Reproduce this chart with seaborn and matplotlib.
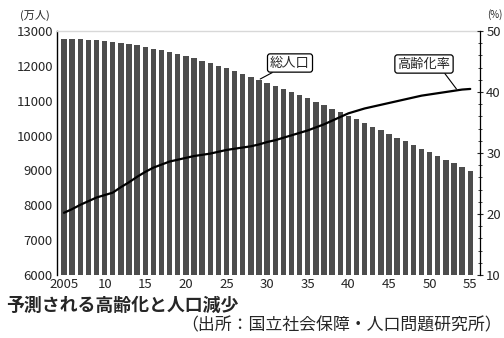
import matplotlib
matplotlib.use("Agg")
import matplotlib.pyplot as plt
import seaborn as sns
import pandas as pd

# 年次（2005〜2055年）
years = list(range(2005, 2056))

# 総人口（万人）
population = [
    12777, 12774, 12763, 12744, 12733, 12718, 12695, 12668, 12637, 12598,
    12543, 12494, 12443, 12390, 12333, 12274, 12213, 12149, 12077, 12004,
    11927, 11848, 11768, 11686, 11604, 11522, 11434, 11343, 11252, 11160,
    11068, 10968, 10869, 10769, 10670, 10570, 10465, 10359, 10255, 10149,
    10044, 9939, 9833, 9727, 9621, 9515, 9411, 9307, 9202, 9098,
    8993,
]

# 高齢化率（％）
aging_rate = [
    20.2, 20.8, 21.5, 22.1, 22.7, 23.1, 23.5, 24.4, 25.2, 26.1,
    26.9, 27.6, 28.1, 28.6, 28.9, 29.2, 29.5, 29.7, 29.9, 30.2,
    30.5, 30.7, 30.9, 31.1, 31.4, 31.8, 32.1, 32.5, 32.9, 33.3,
    33.7, 34.2, 34.7, 35.3, 35.9, 36.5, 36.9, 37.3, 37.6, 37.9,
    38.2, 38.5, 38.8, 39.1, 39.4, 39.6, 39.8, 40.0, 40.2, 40.4,
    40.5,
]

# 軸目盛
x_tick_labels = ["2005", "10", "15", "20", "25", "30", "35", "40", "45", "50", "55"]
left_ticks = [6000, 7000, 8000, 9000, 10000, 11000, 12000, 13000]
right_ticks = [10, 20, 30, 40, 50]

sns.set_theme(style="white")
plt.rcParams["font.family"] = ["Noto Sans CJK JP", "DejaVu Sans"]

df = pd.DataFrame({"year": years, "pop": population, "rate": aging_rate})
df["idx"] = range(len(df))

fig = plt.figure(figsize=(5.04, 3.38), dpi=100)
ax = fig.add_axes([57 / 504, 1 - 275 / 338, (480 - 57) / 504, (275 - 31) / 338])

sns.barplot(data=df, x="idx", y="pop", color="#4d4d4d", width=0.66,
            saturation=1, ax=ax, edgecolor="none")
ax.set_ylim(6000, 13000)
ax.set_xlim(-0.86, 51.2)
ax.set_xlabel("")
ax.set_ylabel("")
ax.set_yticks(left_ticks)
ax.set_yticklabels([str(t) for t in left_ticks], fontsize=9.5)
ax.set_xticks(list(range(0, 51, 5)))
ax.set_xticklabels(x_tick_labels, fontsize=9.5)
ax.tick_params(axis="x", length=0, pad=2)
ax.tick_params(axis="y", length=0, pad=3)
ax.spines["left"].set_color("black")
ax.spines["left"].set_linewidth(1.0)
ax.spines["bottom"].set_visible(False)
ax.spines["top"].set_color("#d8d8d8")
ax.spines["top"].set_linewidth(1.0)
ax.spines["right"].set_visible(False)

ax2 = ax.twinx()
sns.lineplot(data=df, x="idx", y="rate", color="black", linewidth=1.6, ax=ax2)
ax2.set_ylim(10, 50)
ax2.set_xlim(-0.86, 51.2)
ax2.set_ylabel("")
ax2.set_xlabel("")
ax2.set_yticks(right_ticks)
ax2.set_yticklabels([str(t) for t in right_ticks], fontsize=9.5)
ax2.set_yticks(list(range(10, 51, 2)), minor=True)
ax2.tick_params(axis="y", which="major", direction="inout", length=5, width=0.8, pad=2)
ax2.tick_params(axis="y", which="minor", direction="inout", length=3, width=0.6, right=True)
for s in ["left", "bottom", "top"]:
    ax2.spines[s].set_visible(False)
ax2.spines["right"].set_color("black")
ax2.spines["right"].set_linewidth(0.9)

# 単位
fig.text(20 / 504, 1 - 15 / 338, "(万人)", fontsize=8, va="center", ha="left")
fig.text(487 / 504, 1 - 15 / 338, "(%)", fontsize=7, va="center", ha="left")

# 系列名の注記
ax.annotate("総人口", xy=(24, population[24]), xycoords="data",
            xytext=(290 / 504, 1 - 63 / 338), textcoords="figure fraction",
            fontsize=9.5, ha="center", va="center",
            bbox=dict(boxstyle="round,pad=0.2", fc="white", ec="black", lw=0.9),
            arrowprops=dict(arrowstyle="-", color="black", lw=0.8,
                            shrinkA=0, shrinkB=1, relpos=(0.2, 0)))
ax2.annotate("高齢化率", xy=(48.3, aging_rate[48] + 0.3), xycoords="data",
             xytext=(424 / 504, 1 - 64 / 338), textcoords="figure fraction",
             fontsize=9.5, ha="center", va="center",
             bbox=dict(boxstyle="round,pad=0.2", fc="white", ec="black", lw=0.9),
             arrowprops=dict(arrowstyle="-", color="black", lw=0.8,
                             shrinkA=0, shrinkB=0, relpos=(0.85, 0)))

# 表題と出所
fig.text(6 / 504, 1 - 306 / 338, "予測される高齢化と人口減少", fontsize=12.9,
         fontweight="bold", va="center", ha="left")
fig.text(502 / 504, 1 - 325 / 338, "（出所：国立社会保障・人口問題研究所）",
         fontsize=12.2, va="center", ha="right")

fig.savefig("out.png", dpi=100)
